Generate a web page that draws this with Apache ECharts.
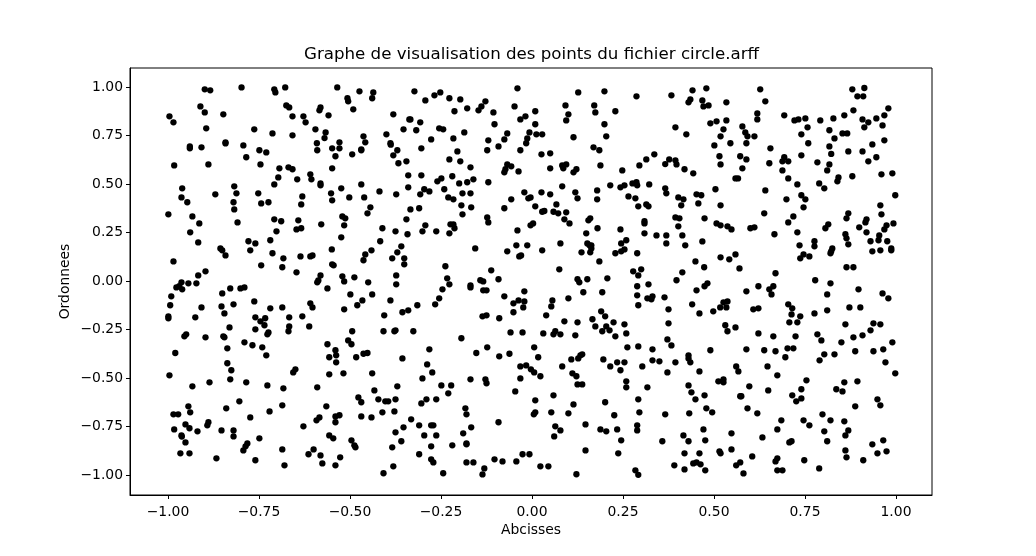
<!DOCTYPE html>
<html>
<head>
<meta charset="utf-8">
<style>html,body{margin:0;padding:0;background:#fff}#c{width:1036px;height:556px}</style>
<script src="https://cdn.jsdelivr.net/npm/echarts@6/dist/echarts.min.js"></script>
</head>
<body>
<div id="c"></div>
<script>
const titleText = 'Graphe de visualisation des points du fichier circle.arff';
const xName = 'Abcisses';
const yName = 'Ordonnees';
const xTicks = [-1, -0.75, -0.5, -0.25, 0, 0.25, 0.5, 0.75, 1];
const yTicks = [-1, -0.75, -0.5, -0.25, 0, 0.25, 0.5, 0.75, 1];

const topLeft = [[-.899,.988],[-.884,.983],[-.798,.998],[-.708,.988],[-.705,.972],[-.678,.998],[-.675,.905],[-.667,.895],[-.911,.900],[-.899,.869],[-.848,.859],[-.996,.849],[-.985,.818],[-.658,.849],[-.628,.849],[-.581,.895],[-.584,.880],[-.559,.854],[-.622,.818],[-.895,.787],[-.763,.782],[-.713,.761],[-.658,.751],[-.595,.782],[-.567,.766],[-.570,.737],[-.591,.710],[-.590,.674],[-.940,.694],[-.940,.684],[-.908,.689],[-.842,.715],[-.842,.709],[-.793,.699],[-.749,.674],[-.730,.663],[-.785,.638],[-.983,.596],[-.889,.601],[-.746,.601],[-.694,.581],[-.669,.586],[-.658,.576],[-.609,.550],[-.606,.524],[-.697,.534],[-.645,.524],[-.708,.498],[-.581,.503],[-.581,.493],[-.961,.478],[-.963,.431],[-.947,.406],[-.818,.488],[-.812,.452],[-.870,.447],[-.752,.452],[-.820,.406],[-.744,.400],[-.724,.406],[-.818,.369],[-.631,.436],[-.634,.395]];
const topMidLeft = [[-.535,.998],[-.474,.978],[-.436,.972],[-.439,.942],[-.507,.942],[-.505,.926],[-.491,.885],[-.323,.978],[-.293,.931],[-.268,.957],[-.252,.972],[-.227,.942],[-.197,.936],[-.128,.926],[-.139,.900],[-.147,.880],[-.178,.890],[-.213,.875],[-.106,.869],[-.048,.900],[-.040,.993],[-.018,.849],[-.032,.833],[-.103,.808],[-.381,.859],[-.337,.833],[-.334,.833],[-.307,.818],[-.353,.782],[-.318,.777],[-.255,.787],[-.244,.782],[-.186,.766],[-.400,.756],[-.216,.735],[-.277,.730],[-.068,.761],[-.007,.766],[-.013,.735],[-.016,.710],[-.076,.730],[-.120,.725],[-.092,.694],[-.123,.674],[-.032,.674],[-.389,.710],[-.388,.703],[-.370,.674],[-.304,.684],[-.381,.648],[-.205,.668],[-.227,.627],[-.197,.617],[-.345,.617],[-.367,.607],[-.169,.586],[-.068,.601],[-.057,.591],[-.073,.576],[-.076,.560],[-.037,.565],[-.463,.746],[-.529,.715],[-.458,.715],[-.549,.684],[-.529,.684],[-.469,.679],[-.469,.674],[-.494,.653],[-.540,.643],[-.549,.581],[-.340,.545],[-.304,.545],[-.219,.540],[-.249,.529],[-.260,.514],[-.200,.503],[-.178,.509],[-.161,.524],[-.120,.509],[-.469,.498],[-.524,.478],[-.340,.483],[-.296,.473],[-.282,.462],[-.241,.473],[-.419,.462],[-.373,.447],[-.307,.447],[-.191,.452],[-.169,.452],[-.021,.457],[-.552,.452],[-.502,.431],[-.461,.431],[-.230,.431],[-.216,.421],[-.057,.421],[-.010,.426],[-.004,.431],[-.549,.416],[-.444,.380],[-.334,.369],[-.310,.375],[-.194,.390],[-.167,.380],[-.076,.375]];
const topMidRight = [[.127,.972],[.199,.978],[.287,.952],[.383,.957],[.441,.983],[.479,.993],[.435,.936],[.430,.921],[.468,.931],[.471,.900],[.485,.905],[.534,.921],[.092,.905],[.171,.905],[.009,.875],[.100,.859],[.174,.869],[.229,.875],[.094,.828],[.009,.808],[.199,.808],[.490,.813],[.507,.823],[.534,.828],[.526,.782],[.394,.792],[.424,.756],[.518,.746],[.012,.756],[.028,.756],[.114,.741],[.204,.746],[.545,.710],[.501,.699],[.169,.689],[.185,.674],[.026,.653],[.050,.658],[.336,.653],[.314,.627],[.377,.627],[.394,.622],[.515,.643],[.366,.603],[.397,.601],[.295,.596],[.518,.601],[.083,.596],[.094,.601],[.086,.581],[.188,.596],[.050,.581],[.122,.576],[.114,.560],[.248,.570],[.419,.576],[.443,.555],[.083,.488],[.215,.493],[.243,.483],[.254,.493],[.276,.503],[.287,.509],[.289,.493],[.322,.498],[.366,.478],[.369,.452],[.504,.473],[.026,.457],[.050,.447],[.119,.457],[.179,.467],[.125,.426],[.179,.421],[.265,.436],[.284,.426],[.402,.431],[.416,.421],[.452,.447],[.465,.442],[.009,.385],[.067,.395],[.292,.385],[.314,.395],[.320,.385],[.410,.390],[.457,.400],[.518,.390]];
const topRight = [[.627,.988],[.641,.926],[.619,.864],[.619,.833],[.578,.797],[.586,.766],[.592,.746],[.611,.746],[.589,.710],[.655,.684],[.572,.643],[.589,.627],[.652,.607],[.578,.581],[.559,.529],[.566,.529],[.641,.467],[.693,.854],[.721,.828],[.732,.833],[.751,.838],[.757,.792],[.740,.756],[.759,.710],[.792,.828],[.828,.838],[.858,.854],[.883,.880],[.880,.988],[.913,.995],[.894,.952],[.910,.952],[.979,.890],[.968,.854],[.946,.838],[.908,.833],[.924,.818],[.913,.792],[.963,.802],[.817,.777],[.853,.761],[.866,.761],[.831,.735],[.968,.725],[.935,.704],[.817,.694],[.869,.668],[.908,.668],[.822,.655],[.740,.648],[.946,.638],[.693,.638],[.688,.617],[.704,.617],[.784,.612],[.817,.601],[.924,.617],[.688,.570],[.811,.570],[.704,.529],[.842,.534],[.839,.514],[.880,.540],[.960,.550],[.990,.555],[.729,.498],[.789,.503],[.803,.478],[.740,.442],[.751,.421],[.699,.421],[.998,.442],[.957,.390],[.746,.380]];
const midLeft = [[-.999,.344],[-.933,.333],[-.914,.297],[-.809,.302],[-.939,.251],[-.917,.199],[-.708,.318],[-.689,.308],[-.642,.313],[-.647,.266],[-.634,.272],[-.579,.292],[-.702,.256],[-.719,.210],[-.779,.205],[-.760,.194],[-.774,.158],[-.856,.168],[-.851,.158],[-.842,.132],[-.713,.143],[-.683,.117],[-.636,.127],[-.609,.127],[-.603,.132],[-.985,.101],[-.744,.081],[-.686,.071],[-.647,.045],[-.897,.050],[-.917,.029],[-.581,.029],[-.587,.003],[-.590,-.007],[-.562,-.038],[-.963,-.007],[-.944,-.012],[-.922,-.012],[-.977,-.033],[-.969,-.027],[-.961,-.043],[-.829,-.038],[-.801,-.038],[-.790,-.033],[-.851,-.064],[-.991,-.079],[-.763,-.105],[-.994,-.125],[-.908,-.136],[-.853,-.131],[-.820,-.120],[-.719,-.141],[-.686,-.136],[-.609,-.115],[-.603,-.136],[-.845,-.167],[-.999,-.182],[-.999,-.192],[-.925,-.187],[-.760,-.187],[-.733,-.192],[-.746,-.208],[-.735,-.228],[-.667,-.187],[-.631,-.182],[-.831,-.239],[-.760,-.249],[-.667,-.234],[-.669,-.259],[-.612,-.234],[-.724,-.265],[-.727,-.275],[-.950,-.275],[-.955,-.285],[-.897,-.290],[-.848,-.285],[-.845,-.290],[-.790,-.316],[-.768,-.331],[-.741,-.342],[-.837,-.347],[-.562,-.326]];
const midMidLeft = [[-.521,.333],[-.513,.323],[-.452,.349],[-.516,.287],[-.524,.225],[-.411,.272],[-.375,.256],[-.345,.318],[-.342,.241],[-.293,.287],[-.301,.256],[-.263,.256],[-.224,.292],[-.216,.292],[-.213,.272],[-.227,.246],[-.191,.344],[-.123,.328],[-.120,.302],[-.040,.261],[-.004,.287],[-.417,.205],[-.359,.179],[-.441,.158],[-.370,.148],[-.458,.137],[-.384,.117],[-.351,.117],[-.463,.107],[-.351,.086],[-.550,.163],[-.549,.086],[-.545,.081],[-.156,.168],[-.068,.153],[-.043,.184],[-.013,.184],[-.035,.127],[-.030,.132],[-.238,.076],[-.112,.055],[-.373,.029],[-.521,.024],[-.488,.019],[-.516,-.002],[-.450,-.007],[-.373,-.017],[-.233,.014],[-.227,-.017],[-.246,-.043],[-.255,-.089],[-.266,-.120],[-.142,.004],[-.134,-.002],[-.092,.009],[-.169,-.022],[-.169,-.033],[-.134,-.048],[-.125,-.048],[-.076,-.079],[-.021,-.053],[-.499,-.069],[-.439,-.069],[-.466,-.100],[-.389,-.100],[-.480,-.125],[-.315,-.125],[-.516,-.146],[-.340,-.151],[-.356,-.161],[-.406,-.177],[-.037,-.100],[-.021,-.105],[-.051,-.115],[-.024,-.136],[-.051,-.161],[-.136,-.182],[-.125,-.177],[-.090,-.192],[-.494,-.259],[-.408,-.259],[-.378,-.259],[-.375,-.254],[-.326,-.259],[-.059,-.265],[-.026,-.265],[-.194,-.295],[-.505,-.306],[-.496,-.326],[-.123,-.342],[-.282,-.352],[-.540,-.357]];
const midMidRight = [[.028,.357],[.034,.361],[.059,.357],[.072,.349],[.094,.354],[.089,.318],[.103,.297],[.003,.297],[.160,.323],[.155,.313],[.180,.272],[.149,.246],[.243,.266],[.309,.308],[.309,.297],[.309,.246],[.394,.328],[.405,.323],[.474,.323],[.507,.297],[.518,.287],[.537,.282],[.548,.266],[.402,.282],[.342,.235],[.369,.235],[.413,.235],[.369,.194],[.468,.204],[.421,.184],[.078,.194],[.259,.210],[.245,.194],[.152,.194],[.158,.184],[.163,.184],[.163,.168],[.160,.148],[.136,.148],[.028,.158],[.254,.163],[.245,.153],[.229,.143],[.289,.143],[.185,.101],[.449,.101],[.518,.122],[.542,.112],[.473,.071],[.075,.060],[.278,.050],[.300,.060],[.292,.029],[.413,.045],[.125,.009],[.130,-.007],[.152,.009],[.207,.014],[.397,.004],[.320,-.017],[.289,-.027],[.482,-.012],[.474,-.027],[.452,-.048],[.141,-.058],[.193,-.058],[.289,-.074],[.317,-.089],[.331,-.079],[.328,-.094],[.364,-.084],[.100,-.089],[.056,-.100],[.053,-.131],[.292,-.125],[.440,-.120],[.375,-.146],[.537,-.105],[.526,-.110],[.534,-.136],[.517,-.136],[.498,-.156],[.460,-.167],[.190,-.156],[.039,-.177],[.201,-.182],[.166,-.197],[.089,-.208],[.125,-.213],[.224,-.213],[.254,-.223],[.174,-.234],[.204,-.234],[.375,-.218],[.531,-.228],[.193,-.259],[.213,-.254],[.259,-.270],[.537,-.259],[.031,-.270],[.064,-.259],[.059,-.275],[.078,-.275],[.119,-.280],[.229,-.285],[.372,-.301],[.383,-.332],[.006,-.342],[.262,-.342],[.292,-.337],[.331,-.352],[.490,-.357]];
const midRight = [[.638,.349],[.718,.333],[.704,.302],[.600,.272],[.611,.277],[.666,.241],[.729,.251],[.559,.137],[.570,.065],[.669,.040],[.735,.184],[.776,.205],[.776,.179],[.825,.168],[.822,.153],[.820,.143],[.746,.137],[.737,.117],[.762,.127],[.814,.292],[.806,.272],[.869,.349],[.864,.323],[.861,.241],[.864,.220],[.869,.189],[.919,.318],[.916,.302],[.899,.277],[.919,.251],[.930,.205],[.960,.344],[.974,.287],[.968,.266],[.993,.297],[.954,.235],[.952,.210],[.976,.205],[.935,.153],[.957,.158],[.987,.168],[.987,.158],[.864,.071],[.883,.071],[.778,.004],[.820,-.012],[.622,-.027],[.663,-.027],[.652,-.043],[.658,-.069],[.589,-.053],[.897,-.043],[.811,-.069],[.963,-.064],[.979,-.089],[.704,-.120],[.715,-.141],[.608,-.146],[.622,-.141],[.872,-.136],[.902,-.136],[.811,-.151],[.776,-.167],[.713,-.172],[.737,-.182],[.707,-.213],[.729,-.213],[.861,-.223],[.938,-.218],[.957,-.223],[.930,-.254],[.559,-.239],[.622,-.270],[.663,-.285],[.724,-.285],[.784,-.275],[.795,-.306],[.883,-.290],[.908,-.280],[.850,-.316],[.990,-.316],[.589,-.352],[.702,-.347],[.718,-.347],[.638,-.357],[.669,-.362],[.888,-.362],[.938,-.362],[.965,-.352]];
const lowLeft = [[-.980,-.371],[-.837,-.424],[-.826,-.460],[-.829,-.507],[-.996,-.486],[-.730,-.383],[-.656,-.471],[-.650,-.455],[-.557,-.393],[-.557,-.481],[-.933,-.543],[-.886,-.522],[-.785,-.522],[-.727,-.538],[-.683,-.553],[-.590,-.548],[-.944,-.646],[-.804,-.620],[-.840,-.656],[-.686,-.641],[-.565,-.646],[-.985,-.687],[-.972,-.687],[-.939,-.677],[-.721,-.672],[-.774,-.703],[-.584,-.703],[-.592,-.718],[-.952,-.739],[-.889,-.728],[-.892,-.744],[-.983,-.765],[-.941,-.759],[-.919,-.775],[-.853,-.770],[-.820,-.770],[-.628,-.749],[-.963,-.796],[-.962,-.802],[-.820,-.801],[-.749,-.811],[-.557,-.796],[-.952,-.832],[-.782,-.837],[-.787,-.852],[-.793,-.873],[-.686,-.868],[-.600,-.868],[-.614,-.893],[-.581,-.899],[-.966,-.888],[-.941,-.888],[-.867,-.914],[-.760,-.924],[-.680,-.950],[-.576,-.940]];
const lowMidLeft = [[-.538,-.383],[-.538,-.419],[-.483,-.393],[-.463,-.375],[-.452,-.371],[-.356,-.399],[-.288,-.430],[-.274,-.471],[-.153,-.371],[-.090,-.388],[-.062,-.375],[-.032,-.440],[-.016,-.435],[-.003,-.455],[-.032,-.502],[-.518,-.476],[-.439,-.476],[-.301,-.502],[-.169,-.507],[-.128,-.507],[-.125,-.527],[-.046,-.569],[-.370,-.543],[-.249,-.538],[-.222,-.538],[-.433,-.564],[-.230,-.579],[-.477,-.600],[-.469,-.625],[-.422,-.610],[-.403,-.620],[-.395,-.620],[-.375,-.610],[-.290,-.610],[-.263,-.610],[-.304,-.631],[-.411,-.677],[-.378,-.672],[-.183,-.656],[-.180,-.687],[-.540,-.698],[-.529,-.692],[-.469,-.698],[-.441,-.703],[-.540,-.728],[-.332,-.713],[-.310,-.744],[-.277,-.744],[-.271,-.744],[-.353,-.754],[-.167,-.754],[-.092,-.728],[-.375,-.780],[-.296,-.796],[-.263,-.796],[-.189,-.785],[-.546,-.811],[-.496,-.821],[-.488,-.847],[-.485,-.857],[-.359,-.826],[-.384,-.857],[-.277,-.852],[-.219,-.847],[-.180,-.837],[-.180,-.842],[-.310,-.893],[-.527,-.909],[-.540,-.950],[-.277,-.919],[-.271,-.935],[-.180,-.935],[-.161,-.935],[-.103,-.919],[-.081,-.930],[-.043,-.930],[-.026,-.893],[-.007,-.893],[-.381,-.955],[-.408,-.991],[-.244,-.991],[-.131,-.966],[-.136,-.997]];
const lowMidRight = [[.017,-.393],[.083,-.440],[.108,-.404],[.127,-.399],[.133,-.383],[.138,-.378],[.196,-.404],[.215,-.440],[.234,-.419],[.254,-.419],[.243,-.460],[.303,-.440],[.331,-.409],[.350,-.414],[.394,-.419],[.372,-.471],[.430,-.383],[.430,-.399],[.435,-.419],[.460,-.466],[.006,-.471],[.023,-.491],[.111,-.476],[.122,-.491],[.125,-.533],[.138,-.533],[.259,-.517],[.259,-.548],[.317,-.548],[.430,-.538],[.526,-.507],[.512,-.517],[.526,-.522],[.438,-.574],[.474,-.589],[.449,-.610],[.059,-.589],[.009,-.615],[.292,-.610],[.201,-.625],[.114,-.636],[.479,-.656],[.495,-.677],[.009,-.677],[.005,-.687],[.053,-.677],[.100,-.682],[.226,-.692],[.295,-.677],[.366,-.687],[.432,-.682],[.064,-.749],[.078,-.770],[.147,-.739],[.188,-.765],[.204,-.775],[.234,-.765],[.289,-.744],[.289,-.770],[.471,-.765],[.061,-.801],[.416,-.796],[.548,-.785],[.245,-.821],[.358,-.826],[.430,-.826],[.476,-.821],[.147,-.873],[.237,-.888],[.548,-.868],[.419,-.888],[.460,-.888],[.515,-.878],[.518,-.888],[.391,-.950],[.443,-.940],[.452,-.935],[.463,-.945],[.419,-.971],[.476,-.976],[.023,-.955],[.045,-.955],[.284,-.976],[.292,-.999],[.122,-.996]];
const lowRight = [[.696,-.393],[.790,-.409],[.803,-.378],[.831,-.378],[.561,-.440],[.567,-.466],[.647,-.440],[.674,-.486],[.971,-.419],[.998,-.476],[.754,-.512],[.858,-.522],[.894,-.517],[.597,-.543],[.649,-.564],[.740,-.558],[.836,-.558],[.853,-.569],[.715,-.589],[.740,-.605],[.726,-.620],[.572,-.594],[.575,-.594],[.949,-.610],[.957,-.641],[.888,-.646],[.592,-.656],[.619,-.682],[.798,-.687],[.685,-.718],[.746,-.718],[.820,-.718],[.858,-.723],[.762,-.744],[.674,-.765],[.803,-.775],[.869,-.770],[.861,-.796],[.633,-.806],[.965,-.821],[.707,-.832],[.713,-.826],[.811,-.826],[.935,-.842],[.861,-.873],[.974,-.878],[.949,-.888],[.605,-.904],[.864,-.909],[.910,-.924],[.674,-.914],[.669,-.930],[.748,-.924],[.572,-.935],[.561,-.950],[.674,-.976],[.688,-.976],[.789,-.966],[.581,-.992]];

const points = [].concat(topLeft, topMidLeft, topMidRight, topRight, midLeft, midMidLeft, midMidRight, midRight, lowLeft, lowMidLeft, lowMidRight, lowRight);
const fmt = v => Number(v).toFixed(2).replace('-', '\u2212');
const font = 'DejaVu Sans';
const axisCommon = (ticks, name, gap, labelMargin) => ({
  type: 'value',
  name: name,
  nameLocation: 'middle',
  nameGap: gap,
  nameMoveOverlap: false,
  nameTextStyle: { color: '#000', fontFamily: font, fontSize: 13.9 },
  splitLine: { show: false },
  axisLine: { show: true, onZero: false, lineStyle: { color: '#000', width: 1 } },
  axisTick: { show: true, length: 4, inside: false, customValues: ticks, lineStyle: { color: '#000', width: 1 } },
  axisLabel: { show: true, customValues: ticks, margin: labelMargin, color: '#000', fontFamily: font, fontSize: 13.9, formatter: fmt }
});
const chart = echarts.init(document.getElementById('c'), null, { renderer: 'canvas' });
chart.setOption({
  animation: false,
  backgroundColor: '#fff',
  title: {
    text: titleText, left: 526.5, top: 41, textAlign: 'center',
    textStyle: { color: '#000', fontFamily: font, fontSize: 16.67, fontWeight: 'normal' }
  },
  grid: { left: 130, right: 104, top: 68, bottom: 61, show: true, borderColor: '#000', borderWidth: 1, backgroundColor: 'transparent' },
  xAxis: Object.assign(axisCommon(xTicks, xName, 28, 10), { min: -1.1044, max: 1.0989 }),
  yAxis: Object.assign(axisCommon(yTicks, yName, 58, 7), { min: -1.103, max: 1.098 }),
  series: [{
    type: 'scatter',
    data: points,
    symbol: 'circle',
    symbolSize: 6.3,
    itemStyle: { color: '#000', opacity: 1 },
    large: false,
    silent: true
  }]
});
</script>
</body>
</html>
